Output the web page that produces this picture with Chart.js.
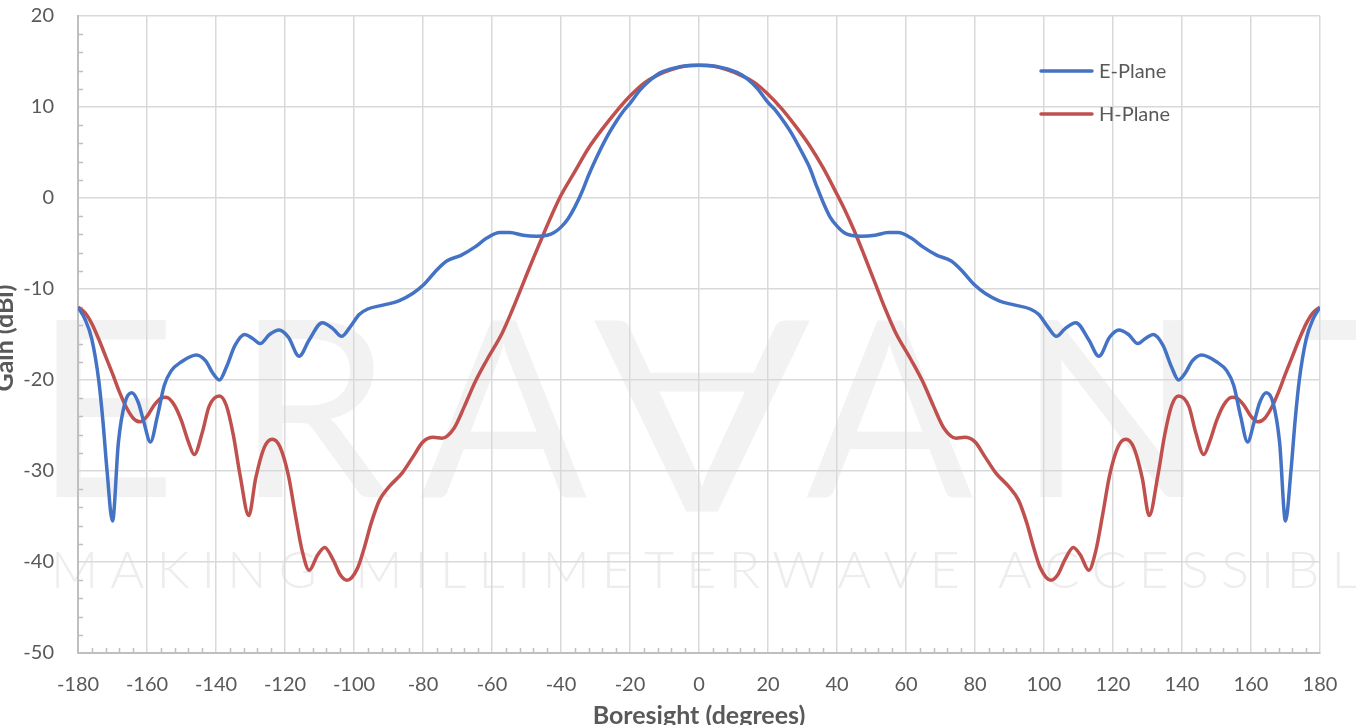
<!DOCTYPE html>
<html>
<head>
<meta charset="utf-8">
<script src="https://cdn.jsdelivr.net/npm/chart.js@4.4.1/dist/chart.umd.min.js"></script>
<style>
html,body{margin:0;padding:0;background:#fff;overflow:hidden;}
#wrap{width:1356px;height:725px;position:relative;}
</style>
</head>
<body>
<div id="wrap"><canvas id="c" width="1356" height="725"></canvas></div>
<script>
// ---- data ----
const eAngles = [-180,-178,-176,-174,-172.8,-171.6,-170,-168.3,-166.4,-164.4,-162.5,-161,-159,-157,-155,-153,-150,-145.7,-143,-141,-139,-137,-134.5,-131.7,-129.5,-127.2,-124.5,-121.7,-119,-115.9,-113,-109.2,-106,-103.6,-101,-98.5,-96,-91.3,-87,-83,-80,-76,-73,-69,-65,-61.5,-57.7,-54.8,-51,-47,-44,-42,-40,-38,-36,-34,-32,-30,-27,-24,-22,-20,-17,-14,-11,-7,-3,0,
  3,7,11,14,17,20,22,24,27,30,32,34,36,38,40,42,44,47,51,54.8,57.7,61.5,65,69,73,76,80,83,87,91.3,96,98.5,101,103.6,106,109.2,113,115.9,119,121.7,124.5,127.2,129.5,131.7,134.5,137,139,141,143,145.7,150,153,155,157,159,161,162.5,164.4,166.4,168.3,170,171.6,172.8,174,176,178,180];
const eGain = [-12.0,-13.3,-15.5,-20.0,-24.4,-29.9,-35.5,-26.9,-22.5,-21.4,-22.5,-24.5,-26.8,-24.0,-20.6,-19.0,-18.0,-17.25,-17.9,-19.2,-20.0,-18.6,-16.2,-15.0,-15.4,-16.0,-15.0,-14.5,-15.3,-17.4,-15.6,-13.7,-14.4,-15.2,-14.1,-12.8,-12.2,-11.75,-11.3,-10.5,-9.6,-7.9,-6.9,-6.3,-5.4,-4.4,-3.8,-3.8,-4.1,-4.2,-4.1,-3.8,-3.2,-2.3,-1.0,0.6,2.5,4.2,6.5,8.4,9.5,10.4,11.9,13.0,13.8,14.3,14.55,14.6,
  14.55,14.3,13.8,13.1,12.0,10.5,9.7,8.7,7.0,4.9,3.4,1.4,-0.5,-2.1,-3.1,-3.8,-4.1,-4.2,-4.1,-3.8,-3.8,-4.4,-5.4,-6.3,-6.9,-7.9,-9.6,-10.5,-11.3,-11.75,-12.2,-12.8,-14.1,-15.2,-14.4,-13.7,-15.6,-17.4,-15.3,-14.5,-15.0,-16.0,-15.4,-15.0,-16.2,-18.6,-20.0,-19.2,-17.9,-17.25,-18.0,-19.0,-20.6,-24.0,-26.8,-24.5,-22.5,-21.4,-22.5,-26.9,-35.5,-29.9,-24.4,-20.0,-15.5,-13.3,-12.0];

const hAngles = [-180,-178,-176,-174,-172,-170,-168,-166,-164,-162,-160,-158,-156,-154.5,-152,-150,-148,-146.3,-144,-142,-139,-137,-135,-133,-130.5,-128.5,-126,-123.7,-121.5,-119,-117,-115,-113,-110.5,-108.5,-106,-104,-102,-99,-97,-95,-92.6,-90,-86,-83,-80,-77,-74.5,-71,-68,-65,-61.5,-57,-54,-51,-48,-45,-42,-40,-36,-32,-28,-24,-20,-16,-12,-8,-4,0,
  4,8,12,16,20,24,28,32,36,40,42,45,48,51,54,57,61.5,65,68,71,74.5,77,80,83,86,90,92.6,95,97,99,102,104,106,108.5,110.5,113,115,117,119,121.5,123.7,126,128.5,130.5,133,135,137,139,142,144,146.3,148,150,152,154.5,156,158,160,162,164,166,168,170,172,174,176,178,180];
const hGain = [-12.0,-12.6,-13.8,-15.5,-17.4,-19.3,-21.3,-23.0,-24.2,-24.6,-24.0,-22.8,-22.0,-21.9,-22.8,-24.5,-26.8,-28.2,-25.8,-22.9,-21.75,-22.8,-26.0,-30.5,-34.9,-30.8,-27.4,-26.5,-27.3,-30.5,-34.8,-38.8,-40.9,-39.2,-38.4,-39.8,-41.4,-42.0,-40.7,-38.4,-35.7,-33.2,-31.8,-30.2,-28.5,-26.8,-26.3,-26.4,-25.3,-22.9,-20.3,-17.8,-14.8,-12.2,-9.4,-6.6,-3.9,-1.3,0.3,2.9,5.5,7.6,9.5,11.2,12.6,13.5,14.1,14.5,14.6,
  14.5,14.1,13.5,12.7,11.4,9.8,7.9,5.8,3.3,0.4,-1.1,-3.6,-6.4,-9.3,-12.2,-14.8,-17.8,-20.3,-22.9,-25.3,-26.4,-26.3,-26.8,-28.5,-30.2,-31.8,-33.2,-35.7,-38.4,-40.7,-42.0,-41.4,-39.8,-38.4,-39.2,-40.9,-38.8,-34.8,-30.5,-27.3,-26.5,-27.4,-30.8,-34.9,-30.5,-26.0,-22.8,-21.75,-22.9,-25.8,-28.2,-26.8,-24.5,-22.8,-21.9,-22.0,-22.8,-24.0,-24.6,-24.2,-23.0,-21.3,-19.3,-17.4,-15.5,-13.8,-12.6,-12.0];

const seriesNames = ['E-Plane','H-Plane'];
const xTitle = 'Boresight (degrees)';
const yTitle = 'Gain (dBi)';
const watermarkWord = 'ERAVANT';
const watermarkTag = 'MAKING MILLIMETERWAVE ACCESSIBLE';

const FONT = 'Lato, "Open Sans", sans-serif';
const TXT = '#595959';
const BLUE = '#4472C4', RED = '#C0504D';
const AREA = {left:78, right:1320, top:16, bottom:653};

const watermark = {
  id:'watermark',
  beforeDraw(chart){
    const ctx = chart.ctx;
    ctx.save();
    ctx.fillStyle = '#ffffff';
    ctx.fillRect(0,0,chart.width,chart.height);
    ctx.fillStyle = '#f2f2f2';
    const size = 247, base = 497, cap = 177;
    ctx.font = '400 ' + size + 'px ' + FONT;
    ctx.textBaseline = 'alphabetic';
    ctx.textAlign = 'left';
    const lefts = [34,236,420,null,806,1018,1300];
    const chars = watermarkWord.split('');
    chars.forEach((ch,i)=>{
      if(lefts[i]===null){
        ctx.save();
        ctx.translate(702,416);
        ctx.rotate(Math.PI);
        ctx.scale(1.3,1.08);
        ctx.textAlign='center';
        ctx.fillText('A',0,cap/2);
        ctx.restore();
      } else {
        ctx.fillText(ch, lefts[i], base);
      }
    });
    // tagline
    ctx.fillStyle = '#ededed';
    ctx.font = '300 52px ' + FONT;
    const tchars = watermarkTag.split('');
    let nat = 0; tchars.forEach(c=>nat+=ctx.measureText(c).width);
    const sp = (1400 - 51 - nat)/(tchars.length-1);
    let x = 51;
    tchars.forEach(c=>{ ctx.fillText(c,x,588); x += ctx.measureText(c).width + sp; });
    ctx.restore();
  }
};

const extras = {
  id:'extras',
  beforeDatasetsDraw(chart){
    const ctx = chart.ctx, xs = chart.scales.x, ys = chart.scales.y;
    const a = chart.chartArea;
    ctx.save();
    ctx.strokeStyle = '#bfbfbf';
    ctx.lineWidth = 1.5;
    ctx.beginPath();
    for(let v=-180; v<=180; v+=4){
      if(v%20===0) continue;
      const px = Math.round(xs.getPixelForValue(v))+0.5;
      ctx.moveTo(px,a.bottom); ctx.lineTo(px,a.bottom-5);
    }
    for(let v=-50; v<=20; v+=2){
      if(v%10===0) continue;
      const py = Math.round(ys.getPixelForValue(v))+0.5;
      ctx.moveTo(a.left,py); ctx.lineTo(a.left+5,py);
    }
    ctx.stroke();
    ctx.restore();
  },
  afterDraw(chart){
    const ctx = chart.ctx;
    ctx.save();
    ctx.fillStyle = TXT;
    ctx.font = 'bold 25px ' + FONT;
    ctx.textAlign = 'center';
    ctx.textBaseline = 'alphabetic';
    ctx.fillText(xTitle, 699, 724);
    ctx.save();
    ctx.translate(13,338);
    ctx.rotate(-Math.PI/2);
    ctx.fillText(yTitle,0,0);
    ctx.restore();
    // legend
    const items = [[seriesNames[0],BLUE,71],[seriesNames[1],RED,114]];
    ctx.font = '20px ' + FONT;
    ctx.textAlign = 'left';
    ctx.textBaseline = 'middle';
    items.forEach(([t,c,y])=>{
      ctx.strokeStyle = c; ctx.lineWidth = 3.5; ctx.lineCap='round';
      ctx.beginPath(); ctx.moveTo(1041,y); ctx.lineTo(1092,y); ctx.stroke();
      ctx.fillStyle = TXT;
      ctx.fillText(t,1099,y+1);
    });
    ctx.restore();
  }
};

const toPts = (xs,ys)=>xs.map((x,i)=>({x:x,y:ys[i]}));

const chart = new Chart(document.getElementById('c'),{
  type:'line',
  data:{datasets:[
    {label:seriesNames[0],data:toPts(eAngles,eGain),borderColor:BLUE,borderWidth:3.5,pointRadius:0,cubicInterpolationMode:'monotone',fill:false},
    {label:seriesNames[1],data:toPts(hAngles,hGain),borderColor:RED,borderWidth:3.5,pointRadius:0,cubicInterpolationMode:'monotone',fill:false}
  ]},
  options:{
    responsive:false,
    animation:false,
    devicePixelRatio:1,
    layout:{padding:{top:16,right:36,left:0,bottom:0}},
    scales:{
      x:{type:'linear',min:-180,max:180,
        ticks:{stepSize:20,color:TXT,font:{family:FONT,size:20},padding:2,maxRotation:0,autoSkip:false},
        grid:{color:'#d9d9d9',lineWidth:1.5,drawTicks:true,tickLength:18,tickColor:'rgba(0,0,0,0)'},
        border:{display:true,color:'#bfbfbf',width:2},
        afterFit:s=>{s.height=72;}},
      y:{type:'linear',min:-50,max:20,
        ticks:{stepSize:10,color:TXT,font:{family:FONT,size:20},padding:2},
        grid:{color:'#d9d9d9',lineWidth:1.5,drawTicks:true,tickLength:22,tickColor:'rgba(0,0,0,0)'},
        border:{display:true,color:'#bfbfbf',width:2},
        afterFit:s=>{s.width=78;}}
    },
    plugins:{legend:{display:false},tooltip:{enabled:false}}
  },
  plugins:[watermark,extras]
});
// nudge layout padding so the plot area lands where the reference has it
for(let k=0;k<3;k++){
  const ca = chart.chartArea, p = chart.options.layout.padding;
  const dt = AREA.top - ca.top, dr = ca.right - AREA.right, db = ca.bottom - AREA.bottom, dl = AREA.left - ca.left;
  if(Math.abs(dt)<0.5 && Math.abs(dr)<0.5 && Math.abs(db)<0.5 && Math.abs(dl)<0.5) break;
  p.top += dt; p.right += dr; p.bottom += db; p.left += dl;
  chart.update();
}
</script>
</body>
</html>
